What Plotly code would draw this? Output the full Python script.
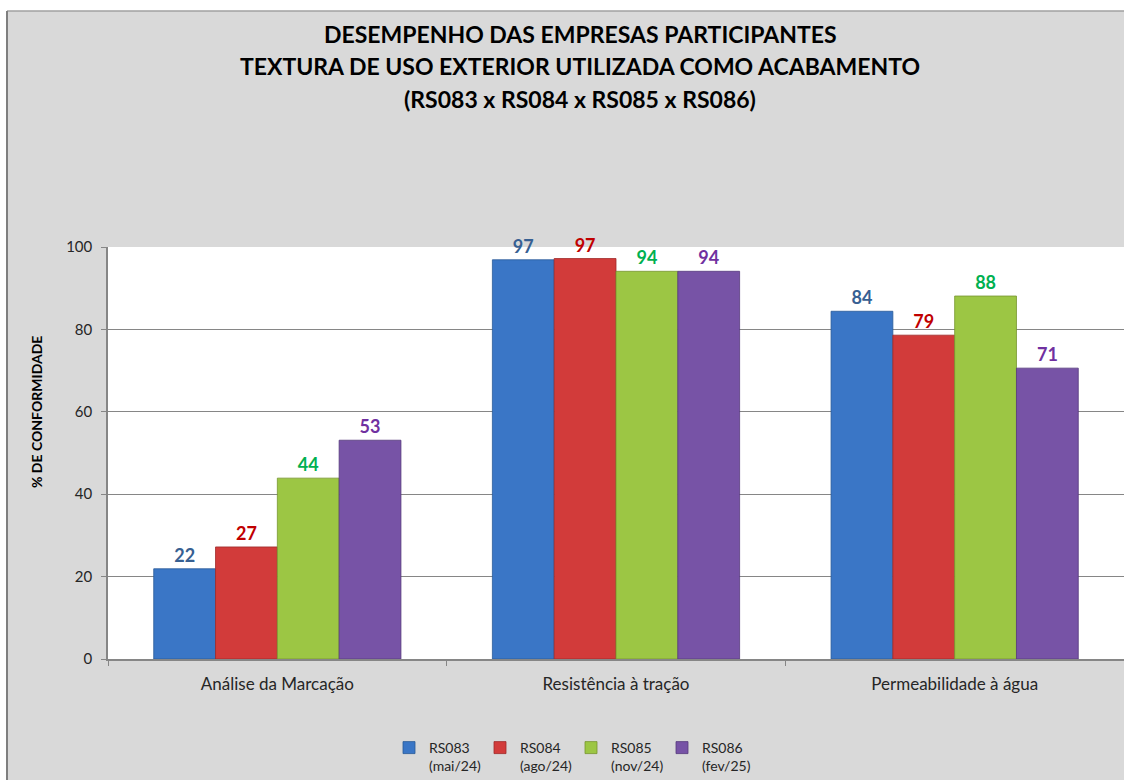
import plotly.graph_objects as go

categories = ["Análise da Marcação", "Resistência à tração", "Permeabilidade à água"]
series_names = ["RS083<br>(mai/24)", "RS084<br>(ago/24)", "RS085<br>(nov/24)", "RS086<br>(fev/25)"]
rs083 = [21.9, 96.9, 84.4]
rs084 = [27.2, 97.2, 78.6]
rs085 = [43.9, 94.1, 88.1]
rs086 = [53.1, 94.1, 70.6]
values = [rs083, rs084, rs085, rs086]
y_ticks = [0, 20, 40, 60, 80, 100]

bar_colors = ["#3a76c6", "#d23b3a", "#9cc644", "#7753a6"]
line_colors = ["#2a5a98", "#9e2a2a", "#76962f", "#553a7c"]
label_colors = ["#376092", "#c00000", "#00b050", "#7030a0"]

FONT = "Lato"
W, H = 1124, 780
ML, MR, MT, MB = 108, 0, 247, 121
PW = W - ML - MR
PH = H - MT - MB


def px_x(x):
    return (x - ML) / PW


def px_y(y):
    return (H - MB - y) / PH


fig = go.Figure()
for name, vals, c, lc, tc in zip(series_names, values, bar_colors, line_colors, label_colors):
    fig.add_trace(go.Bar(
        x=categories, y=vals, name=name,
        marker=dict(color=c, line=dict(color=lc, width=0.8)),
        texttemplate="%{y:.0f}", textposition="outside",
        textfont=dict(family=FONT, size=18, color=tc, weight="bold"),
        cliponaxis=False,
    ))

shapes = [
    dict(type="rect", xref="paper", yref="paper", layer="below",
         x0=px_x(7), x1=px_x(W + 60), y0=px_y(11), y1=px_y(H + 60),
         fillcolor="#d9d9d9", line=dict(width=0)),
    dict(type="line", xref="paper", yref="paper", layer="below",
         x0=px_x(7), x1=px_x(W + 60), y0=px_y(11), y1=px_y(11),
         line=dict(color="#a0a0a0", width=1.5)),
    dict(type="line", xref="paper", yref="paper", layer="below",
         x0=px_x(7), x1=px_x(7), y0=px_y(11), y1=px_y(H + 60),
         line=dict(color="#7f7f7f", width=2)),
    dict(type="rect", xref="paper", yref="paper", layer="below",
         x0=0, x1=1, y0=0, y1=1, fillcolor="white", line=dict(width=0)),
]

title_lines = ["DESEMPENHO DAS EMPRESAS PARTICIPANTES",
               "TEXTURA DE USO EXTERIOR UTILIZADA COMO ACABAMENTO",
               "(RS083 x RS084 x RS085 x RS086)"]
title_y = [34, 66, 99]
annotations = []
for t, yy in zip(title_lines, title_y):
    annotations.append(dict(text="<b>" + t + "</b>", x=px_x(580), y=px_y(yy),
                            xref="paper", yref="paper", showarrow=False,
                            xanchor="center", yanchor="middle",
                            font=dict(family=FONT, size=23, color="#000000")))
annotations.append(dict(text="<b>% DE CONFORMIDADE</b>", x=px_x(36), y=px_y(412),
                        xref="paper", yref="paper", showarrow=False, textangle=-90,
                        xanchor="center", yanchor="middle",
                        font=dict(family=FONT, size=14, color="#000000")))

fig.update_layout(
    width=W, height=H,
    margin=dict(l=ML, r=MR, t=MT, b=MB, pad=0, autoexpand=False),
    paper_bgcolor="white", plot_bgcolor="white",
    barmode="group", bargap=0.27, bargroupgap=0,
    font=dict(family=FONT, size=14, color="#262626"),
    shapes=shapes, annotations=annotations,
    showlegend=True,
    legend=dict(orientation="h", x=px_x(389), y=px_y(732), xanchor="left", yanchor="top",
                entrywidth=46, entrywidthmode="pixels", valign="top",
                font=dict(family=FONT, size=14, color="#262626"),
                bgcolor="rgba(0,0,0,0)", itemwidth=30, traceorder="normal"),
    xaxis=dict(type="category", tickson="boundaries", ticks="outside", ticklen=5,
               tickcolor="#868686", showline=True, linecolor="#868686", linewidth=1.5,
               showgrid=False, tickfont=dict(family=FONT, size=17, color="#262626"),
               ticklabelstandoff=9),
    yaxis=dict(range=[0, 100], tickvals=y_ticks, ticks="outside", ticklen=5,
               tickcolor="#868686", showline=True, linecolor="#868686", linewidth=1.5,
               showgrid=True, gridcolor="#868686", gridwidth=1, zeroline=False,
               tickfont=dict(family=FONT, size=15, color="#262626"),
               ticklabelstandoff=6),
)

fig.write_html("out.html", config={"displayModeBar": False},
               post_script="document.body.style.margin='0';document.body.style.overflow='hidden';")
